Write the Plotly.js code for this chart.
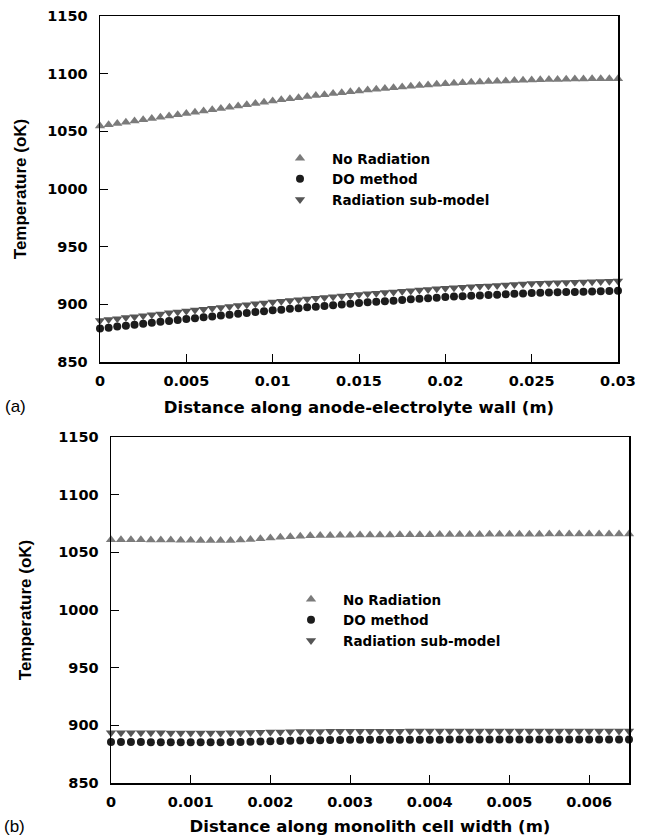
<!DOCTYPE html>
<html>
<head>
<meta charset="utf-8">
<script src="https://cdn.plot.ly/plotly-3.0.1.min.js"></script>
<style>html,body{margin:0;padding:0;background:#fff;}#chart{width:647px;height:838px;}</style>
</head>
<body>
<div id="chart"></div>
<script>
// ---------- Panel (a): distance along anode-electrolyte wall (m) ----------
const xA = [];
for (let i = 0; i <= 60; i++) xA.push(+(i * 0.0005).toFixed(4));
const noRadA = [1054.6,1055.7,1056.8,1057.9,1058.9,1060.0,1061.1,1062.2,1063.3,1064.4,1065.4,
  1066.5,1067.6,1068.7,1069.8,1070.9,1071.9,1073.0,1074.1,1075.2,1076.3,
  1077.3,1078.2,1079.2,1080.1,1081.0,1081.8,1082.7,1083.5,1084.3,1085.0,
  1085.8,1086.5,1087.2,1087.8,1088.5,1089.1,1089.7,1090.2,1090.8,1091.3,
  1091.7,1092.1,1092.5,1092.8,1093.1,1093.4,1093.7,1094.0,1094.2,1094.5,
  1094.7,1094.9,1095.0,1095.2,1095.3,1095.4,1095.5,1095.6,1095.7,1095.7];
const doA = [879.0,879.8,880.7,881.5,882.3,883.2,884.0,884.8,885.6,886.5,887.3,
  888.0,888.8,889.5,890.3,891.0,891.8,892.5,893.3,894.0,894.8,
  895.4,896.1,896.7,897.4,898.0,898.6,899.3,899.9,900.6,901.2,
  901.7,902.2,902.7,903.2,903.7,904.3,904.8,905.3,905.8,906.3,
  906.7,907.0,907.4,907.7,908.1,908.4,908.8,909.1,909.5,909.8,
  910.0,910.2,910.4,910.6,910.8,911.0,911.2,911.4,911.6,911.8];
const subA = [886.0,886.8,887.6,888.5,889.3,890.1,890.9,891.7,892.6,893.4,894.2,
  895.0,895.8,896.5,897.3,898.1,898.9,899.7,900.4,901.2,902.0,
  902.7,903.3,904.0,904.6,905.3,906.0,906.6,907.3,907.9,908.6,
  909.1,909.7,910.2,910.8,911.3,911.8,912.4,912.9,913.5,914.0,
  914.4,914.8,915.2,915.6,916.0,916.4,916.8,917.2,917.6,918.0,
  918.2,918.4,918.7,918.9,919.1,919.3,919.5,919.8,920.0,920.2];

// ---------- Panel (b): distance along monolith cell width (m) ----------
const xB = [];
for (let i = 0; i <= 52; i++) xB.push(+(i * 0.000125).toFixed(6));
const noRadB = [1061.0,1061.0,1061.0,1060.9,1060.8,1060.7,1060.6,1060.5,1060.4,
  1060.3,1060.2,1060.2,1060.3,1060.6,1061.1,1061.7,1062.4,1063.0,1063.6,1064.0,1064.4,
  1064.6,1064.7,1064.8,1064.9,1065.0,1065.0,1065.1,1065.1,1065.2,1065.2,1065.3,1065.3,
  1065.4,1065.4,1065.5,1065.5,1065.5,1065.6,1065.6,1065.6,1065.7,1065.7,1065.7,1065.8,
  1065.8,1065.8,1065.9,1065.9,1065.9,1066.0,1066.0,1066.0];
const doB = [885.5,885.5,885.5,885.5,885.4,885.4,885.4,885.4,885.4,
  885.4,885.4,885.4,885.5,885.6,885.8,886.0,886.2,886.4,886.6,886.8,887.0,
  887.1,887.2,887.3,887.4,887.4,887.5,887.5,887.5,887.6,887.6,887.6,887.6,
  887.6,887.7,887.7,887.7,887.7,887.7,887.7,887.8,887.8,887.8,887.8,887.8,
  887.8,887.8,887.8,887.8,887.8,887.8,887.8,887.8];
const subB = [893.5,893.5,893.5,893.5,893.5,893.5,893.4,893.4,893.4,
  893.4,893.4,893.4,893.5,893.6,893.8,894.0,894.2,894.3,894.5,894.6,894.7,
  894.7,894.8,894.8,894.8,894.9,894.9,894.9,894.9,894.9,895.0,895.0,895.0,
  895.0,895.0,895.0,895.0,895.0,895.0,895.0,895.0,895.0,895.0,895.0,895.0,
  895.0,895.0,895.0,895.0,895.0,895.0,895.0,895.0];

const seriesNames = ['No Radiation', 'DO method', 'Radiation sub-model'];
const yTitle = 'Temperature (oK)';
const xTitleA = 'Distance along anode-electrolyte wall (m)';
const xTitleB = 'Distance along monolith cell width (m)';

const WIDE = 'DejaVu Sans, Verdana, sans-serif';
const ARIAL = 'Liberation Sans, Arial, Helvetica, sans-serif';
const styles = [
  {symbol: 'triangle-up', color: '#7b7b7b', size: 9},
  {symbol: 'circle', color: '#1c1c1c', size: 8},
  {symbol: 'triangle-down', color: '#555555', size: 9}
];
function tr(x, y, k, xa, ya, leg) {
  return {x: x, y: y, name: seriesNames[k], type: 'scatter', mode: 'markers',
    xaxis: xa, yaxis: ya, legend: leg, cliponaxis: false,
    marker: {symbol: styles[k].symbol, color: styles[k].color, size: styles[k].size, line: {width: 0}}};
}
const data = [
  tr(xA, noRadA, 0, 'x', 'y', 'legend'),
  tr(xA, doA, 1, 'x', 'y', 'legend'),
  tr(xA, subA, 2, 'x', 'y', 'legend'),
  tr(xB, noRadB, 0, 'x2', 'y2', 'legend2'),
  tr(xB, doB, 1, 'x2', 'y2', 'legend2'),
  tr(xB, subB, 2, 'x2', 'y2', 'legend2')
];

const W = 647, H = 838;
function ax(extra) {
  return Object.assign({
    showline: true, linecolor: '#000', linewidth: 1.5, mirror: true,
    ticks: 'inside', tickcolor: '#000', tickwidth: 1, ticklen: 8,
    showgrid: false, zeroline: false, automargin: false,
    tickfont: {family: WIDE, size: 14.5, weight: 'bold', color: '#000'}
  }, extra);
}
const xTitleFont = {family: WIDE, size: 16.5, weight: 'bold', color: '#000'};
const yTitleFont = {family: ARIAL, size: 17, weight: 'bold', color: '#000'};
const legFont = {family: WIDE, size: 13.5, weight: 'bold', color: '#000'};

const layout = {
  width: W, height: H,
  margin: {l: 0, r: 0, t: 0, b: 0},
  paper_bgcolor: '#fff', plot_bgcolor: '#fff',
  showlegend: true,
  xaxis: ax({domain: [100 / W, 618 / W], anchor: 'y', range: [0, 0.03], tick0: 0, dtick: 0.005,
    ticklabelstandoff: 5, title: {text: xTitleA, font: xTitleFont, standoff: 13}}),
  yaxis: ax({domain: [1 - 362 / H, 1 - 16 / H], anchor: 'x', range: [850, 1150], tick0: 850, dtick: 50,
    ticklabelstandoff: 8, title: {text: yTitle, font: yTitleFont, standoff: 16}}),
  xaxis2: ax({domain: [111 / W, 629 / W], anchor: 'y2', range: [0, 0.0065], tick0: 0, dtick: 0.001,
    ticklabelstandoff: 5, title: {text: xTitleB, font: xTitleFont, standoff: 11}}),
  yaxis2: ax({domain: [1 - 783 / H, 1 - 437 / H], anchor: 'x2', range: [850, 1150], tick0: 850, dtick: 50,
    ticklabelstandoff: 8, title: {text: yTitle, font: yTitleFont, standoff: 22}}),
  legend: {x: 268 / W, y: 1 - 143 / H, xanchor: 'left', yanchor: 'top', bgcolor: 'rgba(0,0,0,0)',
    font: legFont, tracegroupgap: 0, itemsizing: 'trace', itemwidth: 54},
  legend2: {x: 279 / W, y: 1 - 584 / H, xanchor: 'left', yanchor: 'top', bgcolor: 'rgba(0,0,0,0)',
    font: legFont, tracegroupgap: 0, itemsizing: 'trace', itemwidth: 54},
  annotations: [
    {text: '(a)', x: 3 / W, y: 1 - 407 / H, xref: 'paper', yref: 'paper', xanchor: 'left', yanchor: 'middle',
      showarrow: false, font: {family: ARIAL, size: 17, color: '#000'}},
    {text: '(b)', x: 2 / W, y: 1 - 826 / H, xref: 'paper', yref: 'paper', xanchor: 'left', yanchor: 'middle',
      showarrow: false, font: {family: ARIAL, size: 17, color: '#000'}}
  ]
};

Plotly.newPlot('chart', data, layout, {displayModeBar: false, staticPlot: true});
</script>
</body>
</html>
